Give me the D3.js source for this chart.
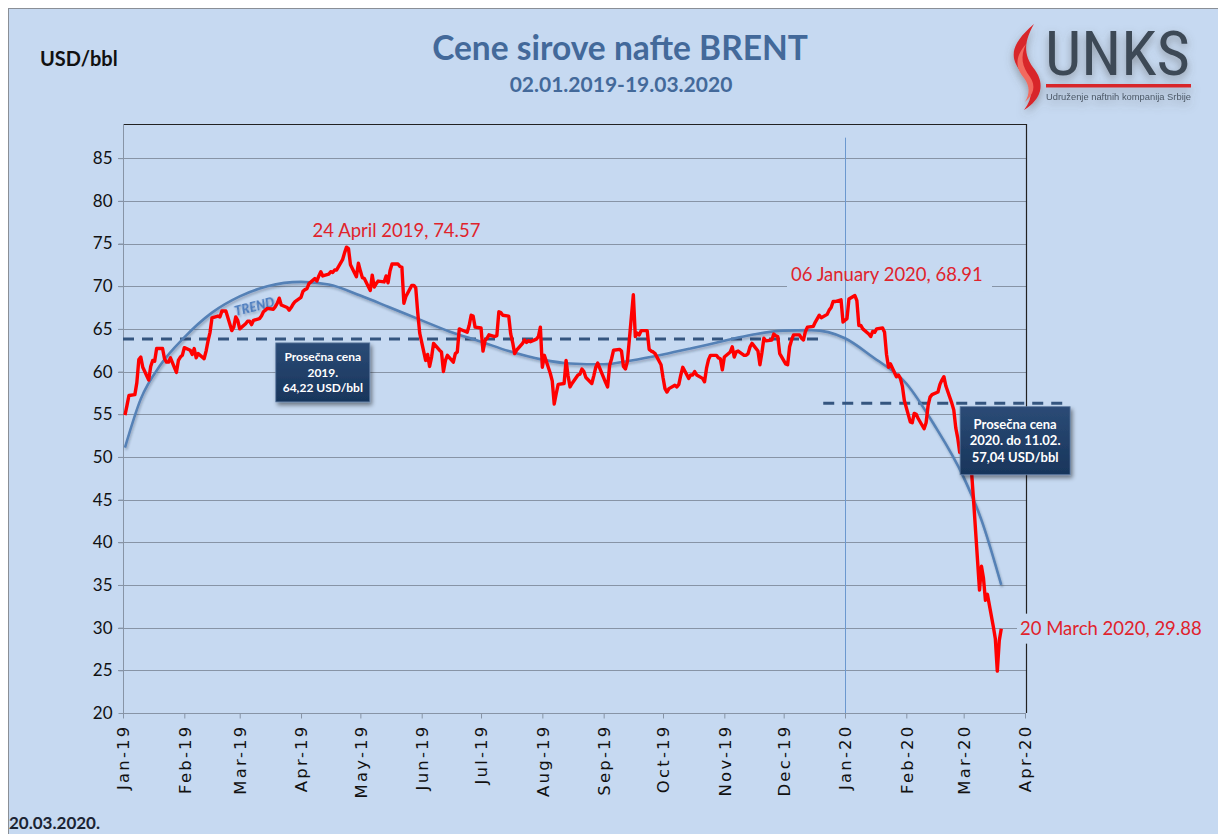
<!DOCTYPE html>
<html><head><meta charset="utf-8">
<script src="https://cdn.jsdelivr.net/npm/d3@7"></script>
<style>
html,body{margin:0;padding:0;background:#fff;}
svg{display:block;}
</style>
</head><body>
<script>
// ---------------- DATA ----------------
// Brent daily prices (USD/bbl), one value per weekday of each month
const months = ["2019-01","2019-02","2019-03","2019-04","2019-05","2019-06","2019-07","2019-08","2019-09","2019-10","2019-11","2019-12","2020-01","2020-02","2020-03"];
const p2019_01 = [54.9,56.0,57.2,57.3,58.7,61.4,61.7,60.5,59.0,60.6,61.3,61.2,62.7,62.7,61.5,61.1,61.1,61.6,59.9,61.3,61.7,61.9];
const p2019_02 = [62.8,62.5,62.0,62.7,61.6,62.1,61.5,62.4,63.6,64.6,66.3,66.5,66.4,67.1,67.1,67.1,64.8,65.2,66.4,66.0];
const p2019_03 = [65.0,65.6,65.9,65.9,65.5,66.0,66.2,66.5,67.0,67.2,67.4,67.3,67.6,68.0,68.6,67.8,67.5,67.2,67.5,67.9,68.2];
const p2019_04 = [68.7,69.4,69.6,69.7,70.3,70.9,70.6,71.2,71.7,71.2,71.4,71.7,71.6,71.9,71.9,73.1,73.9,74.57,74.4,72.5,71.1,72.7];
const p2019_05 = [71.8,71.0,70.9,69.5,71.3,69.9,70.3,70.6,70.5,71.2,70.4,71.8,72.6,72.6,72.3,72.2,68.0,68.8,70.1,70.1,69.8,66.9,64.5];
const p2019_06 = [61.3,62.0,60.6,61.7,63.3,62.5,62.3,60.0,61.3,61.9,61.1,62.1,62.3,65.0,64.9,64.6,65.4,66.6,66.5,65.2];
const p2019_07 = [65.1,62.4,63.6,63.9,64.3,64.1,64.2,67.0,66.9,66.6,66.5,64.4,63.4,62.1,62.5,63.3,63.7,63.4,63.6,63.5,63.8,64.1,65.2];
const p2019_08 = [60.5,61.9,59.8,58.9,56.2,57.4,58.5,58.6,61.3,59.5,58.2,58.6,59.6,59.7,60.3,60.0,59.3,58.6,59.5,60.5,61.0,60.4];
const p2019_09 = [58.7,58.2,60.7,61.5,62.5,62.6,62.4,60.6,60.3,61.2,69.0,64.1,64.5,64.3,64.8,64.8,62.6,62.4,62.3,62.1,60.8];
const p2019_10 = [59.3,58.0,57.6,58.0,58.4,58.2,58.5,59.6,60.5,59.2,59.6,59.6,60.0,59.6,59.2,58.8,60.4,61.4,61.9,61.9,61.6,61.5,60.2];
const p2019_11 = [61.7,62.3,62.9,61.7,62.3,62.4,61.9,61.9,62.1,62.9,63.3,62.4,60.8,62.2,63.9,63.6,63.7,64.4,64.2,64.1,62.1];
const p2019_12 = [60.9,60.8,62.9,63.7,64.3,64.3,63.9,63.7,64.7,65.2,65.3,65.8,66.2,66.6,66.3,66.7,67.2,67.5,68.2,68.2,68.4,65.8];
const p2020_01 = [66.0,66.2,68.5,68.91,68.3,65.4,65.4,65.0,64.4,64.1,64.7,64.6,65.0,65.1,64.6,62.0,60.5,60.9,59.4,59.6,59.2,58.3,56.6];
const p2020_02 = [54.1,54.0,55.1,55.0,54.5,53.3,54.0,56.0,57.0,57.3,57.6,58.5,59.0,59.4,58.3,56.3,55.5,53.4,52.2,50.5];
const p2020_03 = [50.5,51.0,50.6,48.2,44.9,34.4,37.2,35.8,33.2,33.9,30.1,28.7,24.9,28.5,29.88];
const monthValues = [p2019_01,p2019_02,p2019_03,p2019_04,p2019_05,p2019_06,p2019_07,p2019_08,p2019_09,p2019_10,p2019_11,p2019_12,p2020_01,p2020_02,p2020_03];
const firstDay = {"2019-01": 2};
const lastDay = {"2020-03": 20};

// Polynomial trend
const trendDates = ["2019-01-02","2019-01-10","2019-01-20","2019-02-01","2019-02-15","2019-03-01","2019-03-15","2019-04-01","2019-04-15","2019-05-01","2019-05-15","2019-06-01","2019-06-15","2019-07-01","2019-07-15","2019-08-01","2019-08-15","2019-09-01","2019-09-15","2019-10-01","2019-10-15","2019-11-01","2019-11-15","2019-12-01","2019-12-15","2020-01-01","2020-01-15","2020-02-01","2020-02-15","2020-03-01","2020-03-10","2020-03-20"];
const trendValues = [51.1,56.8,60.8,64.0,66.9,68.8,70.0,70.5,70.2,68.9,67.6,66.0,64.7,63.5,62.4,61.4,60.95,60.85,61.3,62.0,62.7,63.6,64.3,64.8,64.85,63.9,61.7,58.6,53.8,47.6,42.6,35.0];

// Average lines
const avg2019 = {from:"2019-01-01", to:"2019-12-22", value:63.8};
const avg2020 = {from:"2019-12-21", to:"2020-04-23", value:56.3};

const yTicks = [20,25,30,35,40,45,50,55,60,65,70,75,80,85];
const xTickLabels = ["Jan-19","Feb-19","Mar-19","Apr-19","May-19","Jun-19","Jul-19","Aug-19","Sep-19","Oct-19","Nov-19","Dec-19","Jan-20","Feb-20","Mar-20","Apr-20"];

const titleText = "Cene sirove nafte BRENT";
const subtitleText = "02.01.2019-19.03.2020";
const unitText = "USD/bbl";
const dateText = "20.03.2020.";
const box2019 = ["Prosečna cena","2019.","64,22 USD/bbl"];
const box2020 = ["Prosečna cena","2020. do 11.02.","57,04 USD/bbl"];
const annotations = [
  {date:"2019-04-24", value:74.57, text:"24 April 2019, 74.57"},
  {date:"2020-01-06", value:68.91, text:"06 January 2020, 68.91"},
  {date:"2020-03-20", value:29.88, text:"20 March 2020, 29.88"}
];

// ---------------- BUILD SERIES ----------------
const parse = d3.timeParse("%Y-%m-%d");
function weekdays(ym){
  const [yy,m] = ym.split("-").map(Number);
  const start = firstDay[ym] || 1;
  const end = lastDay[ym] || new Date(yy, m, 0).getDate();
  const out = [];
  for(let d=start; d<=end; d++){
    const dt = new Date(yy, m-1, d);
    const wd = dt.getDay();
    if(wd>0 && wd<6) out.push(dt);
  }
  return out;
}
const series = [];
months.forEach((ym,i)=>{
  const days = weekdays(ym);
  const vals = monthValues[i];
  if(days.length !== vals.length) console.warn(ym, days.length, vals.length);
  vals.forEach((v,j)=>{ if(days[j]) series.push({date:days[j], value:v}); });
});
const trend = trendDates.map((d,i)=>({date:parse(d), value:trendValues[i]}));

// ---------------- CHART ----------------
const W = 1218, H = 834;
const BG = "#c6d9f1";
const M = {left:123, right:1026, top:124, bottom:713};

const svg = d3.select("body").append("svg").attr("width",W).attr("height",H);
const defs = svg.append("defs");
const sh = defs.append("filter").attr("id","shadow").attr("x","-20%").attr("y","-20%").attr("width","150%").attr("height","160%");
sh.append("feDropShadow").attr("dx",2).attr("dy",3).attr("stdDeviation",2).attr("flood-color","#000").attr("flood-opacity",0.45);
const sh2 = defs.append("filter").attr("id","lshadow").attr("x","-20%").attr("y","-20%").attr("width","140%").attr("height","140%");
sh2.append("feDropShadow").attr("dx",1).attr("dy",2).attr("stdDeviation",1.2).attr("flood-color","#1a2a40").attr("flood-opacity",0.3);
const lg = defs.append("linearGradient").attr("id","boxg").attr("x1",0).attr("y1",0).attr("x2",0).attr("y2",1);
lg.append("stop").attr("offset","0%").attr("stop-color","#2b4b76");
lg.append("stop").attr("offset","100%").attr("stop-color","#18355b");
const logoSh = defs.append("filter").attr("id","logosh").attr("x","-20%").attr("y","-20%").attr("width","140%").attr("height","150%");
logoSh.append("feDropShadow").attr("dx",0).attr("dy",4).attr("stdDeviation",4).attr("flood-color","#555").attr("flood-opacity",0.5);

// background + frame
svg.append("rect").attr("x",0).attr("y",0).attr("width",W).attr("height",H).attr("fill","#ffffff");
svg.append("rect").attr("x",8.5).attr("y",8.5).attr("width",W).attr("height",H)
  .attr("fill",BG).attr("stroke","#8a8f96").attr("stroke-width",1);

const x = d3.scaleTime().domain([parse("2019-01-01"), parse("2020-04-01")]).range([M.left, 1025]);
const y = d3.scaleLinear().domain([20, 89]).range([M.bottom, M.top]);

// gridlines
svg.append("g").selectAll("line").data(yTicks.filter(t=>t>20)).join("line")
  .attr("x1",M.left-5).attr("x2",M.right)
  .attr("y1",d=>Math.round(y(d))+0.5).attr("y2",d=>Math.round(y(d))+0.5)
  .attr("stroke","#8794a6").attr("stroke-width",1);

const annG = svg.append("g");

// plot frame top/right
svg.append("line").attr("x1",M.left).attr("x2",M.right+0.5).attr("y1",M.top+0.5).attr("y2",M.top+0.5).attr("stroke","#222").attr("stroke-width",1.2);
svg.append("line").attr("x1",M.right+0.5).attr("x2",M.right+0.5).attr("y1",M.top).attr("y2",M.bottom).attr("stroke","#222").attr("stroke-width",1.2);

// y axis
const yAxis = d3.axisLeft(y).tickValues(yTicks).tickSize(5).tickPadding(6).tickFormat(d3.format("d"));
const gy = svg.append("g").attr("transform",`translate(${M.left+0.5},0)`).call(yAxis);
gy.select(".domain").attr("stroke","#8794a6").attr("d",`M0,${M.top}V${M.bottom}`);
gy.selectAll(".tick line").attr("stroke","#8794a6");
gy.selectAll("text").attr("font-family","Lato, 'Open Sans', sans-serif").attr("font-size",17).attr("fill","#111");

// x axis
const monthTicks = d3.timeMonth.range(parse("2019-01-01"), parse("2020-04-02"));
const xAxis = d3.axisBottom(x).tickValues(monthTicks).tickSize(5).tickPadding(7).tickFormat((d,i)=>xTickLabels[i]);
const gx = svg.append("g").attr("transform",`translate(0,${M.bottom+0.5})`).call(xAxis);
gx.select(".domain").attr("stroke","#8794a6").attr("d",`M${M.left},0H${M.right}`);
gx.selectAll(".tick line").attr("stroke","#8794a6");
gx.selectAll("text")
  .attr("font-family","'DejaVu Sans', Verdana, sans-serif").attr("font-size",16.5).attr("fill","#111")
  .attr("letter-spacing","2.2px")
  .attr("transform","rotate(-90)").attr("text-anchor","end").attr("x",-11).attr("y",0).attr("dy","0.36em");

// background behind Jan 2020 annotation (hides the 70 gridline)
annG.append("rect").attr("x",787).attr("y",265).attr("width",205).attr("height",y(69.4)-265).attr("fill",BG);

// vertical line at Jan-20
const xj = Math.round(x(parse("2020-01-01")))+0.5;
svg.append("line").attr("x1",xj).attr("x2",xj)
  .attr("y1",y(87.4)).attr("y2",M.bottom).attr("stroke","#6b98cf").attr("stroke-width",1);

// dashed average lines
[avg2019, avg2020].forEach(a=>{
  svg.append("line").attr("x1",x(parse(a.from))).attr("x2",x(parse(a.to)))
    .attr("y1",y(a.value)).attr("y2",y(a.value))
    .attr("stroke","#34557f").attr("stroke-width",3).attr("stroke-dasharray","11,8");
});

// trend line
const trendLine = d3.line().x(d=>x(d.date)).y(d=>y(d.value)).curve(d3.curveMonotoneX);
svg.append("path").datum(trend).attr("d",trendLine).attr("fill","none")
  .attr("stroke","#5581b6").attr("stroke-width",2.6).attr("filter","url(#lshadow)");

// TREND label
const tp = x(parse("2019-02-27"));
svg.append("text").attr("transform",`translate(${tp},${y(66.5)}) rotate(-14)`)
  .attr("font-family","Lato, sans-serif").attr("font-weight",900).attr("font-style","italic")
  .attr("font-size",13).attr("fill","#4b7bbd").attr("filter","url(#lshadow)").text("TREND");

// price line
const priceLine = d3.line().x(d=>x(d.date)).y(d=>y(d.value)).curve(d3.curveLinear);
svg.append("path").datum(series).attr("d",priceLine).attr("fill","none")
  .attr("stroke","#ff0000").attr("stroke-width",3.4).attr("stroke-linejoin","round");

// boxes
function box(cx, cy, w, h, lines, fs, lh){
  const g = svg.append("g");
  g.append("rect").attr("x",cx-w/2).attr("y",cy-h/2).attr("width",w).attr("height",h)
    .attr("fill","url(#boxg)").attr("stroke","#5d7aa0").attr("stroke-width",0.8).attr("filter","url(#shadow)");
  lines.forEach((t,i)=>{
    g.append("text").attr("x",cx).attr("y",cy + (i-(lines.length-1)/2)*lh).attr("dy","0.35em")
      .attr("text-anchor","middle").attr("font-family","Lato, 'Open Sans', sans-serif").attr("font-weight",700)
      .attr("font-size",fs).attr("fill","#ffffff").text(t);
  });
}
box(x(parse("2019-04-12")), y(59.9), 94, 59, box2019, 12, 15.5);
box(x(parse("2020-03-27")), y(51.9), 110, 68, box2020, 13, 16.5);

// annotations
const annFont = "Lato, 'Open Sans', sans-serif";
const a1 = annotations[0], a2 = annotations[1], a3 = annotations[2];
svg.append("text").attr("x",x(parse(a1.date))+50).attr("y",y(a1.value)-10)
  .attr("text-anchor","middle").attr("font-family",annFont).attr("font-size",18.5).attr("fill","#e0232c").text(a1.text);
svg.append("text").attr("x",x(parse(a2.date))+32).attr("y",y(a2.value)-14)
  .attr("text-anchor","middle").attr("font-family",annFont).attr("font-size",18.5).attr("fill","#e0232c").text(a2.text);
svg.append("rect").attr("x",1017).attr("y",y(a3.value)-15).attr("width",200).attr("height",30).attr("fill",BG);
svg.append("text").attr("x",1020).attr("y",y(a3.value)).attr("dy","0.35em")
  .attr("font-family",annFont).attr("font-size",18.5).attr("fill","#e0232c").text(a3.text);

// titles
svg.append("text").attr("x",620).attr("y",60).attr("text-anchor","middle")
  .attr("font-family",annFont).attr("font-weight",700).attr("font-size",33.5).attr("fill","#43699a").text(titleText);
svg.append("text").attr("x",621).attr("y",92).attr("text-anchor","middle")
  .attr("font-family",annFont).attr("font-weight",700).attr("font-size",21).attr("fill","#43699a").text(subtitleText);
svg.append("text").attr("x",40).attr("y",66)
  .attr("font-family",annFont).attr("font-weight",700).attr("font-size",20).attr("fill","#111").text(unitText);
svg.append("text").attr("x",9).attr("y",829)
  .attr("font-family",annFont).attr("font-weight",700).attr("font-size",17).attr("fill","#1b2433").text(dateText);

// logo
const logo = svg.append("g").attr("filter","url(#logosh)");
logo.append("path").attr("d","M1034,24 C1008,46 1010,60 1023,74 C1033,85 1034,97 1024,110 C1042,99 1045,84 1035,70 C1025,57 1022,45 1034,24 Z").attr("fill","#d8262c");
logo.append("path").attr("d","M1026,44 C1014,58 1016,68 1024,78 C1030,86 1030,94 1025,102 C1034,94 1036,86 1030,77 C1022,66 1020,57 1026,44 Z").attr("fill","#f26a5e");
logo.append("text").attr("x",1045).attr("y",75).attr("font-family","'Liberation Sans Narrow', 'Roboto Condensed', 'Liberation Sans', sans-serif")
  .attr("font-stretch","condensed").attr("font-size",61).attr("fill","#3e4a57")
  .attr("textLength",145).attr("lengthAdjust","spacingAndGlyphs").text("UNKS");
logo.append("rect").attr("x",1046).attr("y",84).attr("width",145).attr("height",3.5).attr("fill","#d8262c");
logo.append("text").attr("x",1046).attr("y",100).attr("font-family","'Liberation Sans Narrow', 'Liberation Sans', sans-serif")
  .attr("font-stretch","condensed").attr("font-size",9.5).attr("fill","#4a5664").attr("textLength",145).attr("lengthAdjust","spacingAndGlyphs")
  .text("Udruženje naftnih kompanija Srbije");
</script>
</body></html>
